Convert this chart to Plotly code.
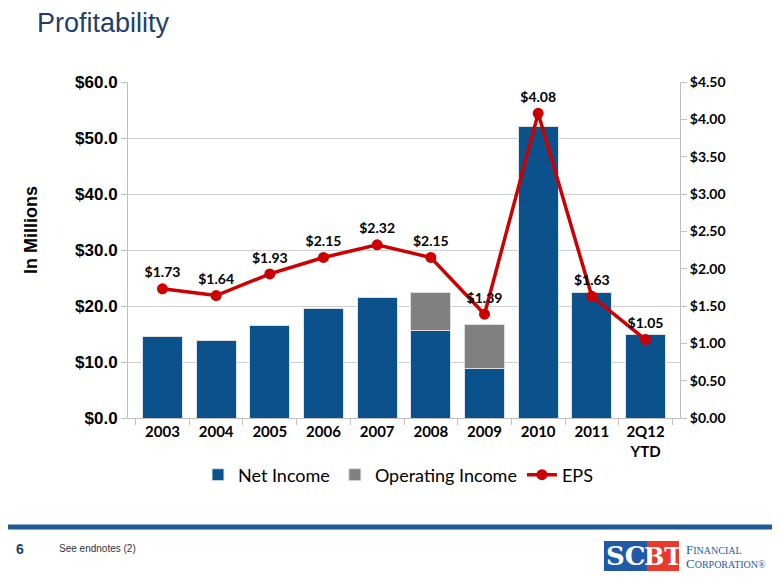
import plotly.graph_objects as go

years = ["2003", "2004", "2005", "2006", "2007", "2008", "2009", "2010", "2011", "2Q12<br>YTD"]
net_income = [14.6, 13.9, 16.6, 19.6, 21.5, 15.7, 8.8, 52.0, 22.5, 15.0]
operating_extra = [0, 0, 0, 0, 0, 6.7, 7.9, 0, 0, 0]
eps = [1.73, 1.64, 1.93, 2.15, 2.32, 2.15, 1.39, 4.08, 1.63, 1.05]
eps_labels = ["$1.73", "$1.64", "$1.93", "$2.15", "$2.32", "$2.15", "$1.39", "$4.08", "$1.63", "$1.05"]
left_ticks = [0, 10, 20, 30, 40, 50, 60]
left_tick_text = ["$0.0", "$10.0", "$20.0", "$30.0", "$40.0", "$50.0", "$60.0"]
right_ticks = [0, 0.5, 1.0, 1.5, 2.0, 2.5, 3.0, 3.5, 4.0, 4.5]
right_tick_text = ["$0.00", "$0.50", "$1.00", "$1.50", "$2.00", "$2.50", "$3.00", "$3.50", "$4.00", "$4.50"]

BLUE = "#0B528C"
GREY = "#808080"
RED = "#CC0000"
CAL = "Lato, Carlito, Calibri, sans-serif"

# page offset (browser body margin) is 8px; plot area in reference pixels: x 128..680, y 82..418
def px_x(px):
    return (px - 128) / (680 - 128)
def px_y(py):
    return (418 - py) / (418 - 82)

fig = go.Figure()
fig.add_trace(go.Bar(x=years, y=net_income, name="Net Income",
                     marker=dict(color=BLUE, line=dict(color="#DDE6F0", width=1))))
fig.add_trace(go.Bar(x=years, y=operating_extra, name="Operating Income",
                     marker=dict(color=GREY, line=dict(color="#DDDDDD", width=1))))
fig.add_trace(go.Scatter(x=years, y=eps, name="EPS", yaxis="y2", mode="lines+markers+text",
                         line=dict(color=RED, width=3.5),
                         marker=dict(color=RED, size=11),
                         text=eps_labels, textposition="top center",
                         textfont=dict(family=CAL, size=14, color="black", weight="bold"),
                         cliponaxis=False))

fig.update_layout(
    width=772, height=569,
    margin=dict(l=120, r=100, t=74, b=159),
    paper_bgcolor="white", plot_bgcolor="white",
    barmode="stack", bargap=0.25,
    showlegend=True,
    legend=dict(orientation="h", x=px_x(198), xanchor="left", y=px_y(475), yanchor="middle",
                font=dict(family=CAL, size=18, color="black"), traceorder="normal",
                itemwidth=30, tracegroupgap=0),
    xaxis=dict(showline=True, linecolor="#BFBFBF", ticks="outside", tickcolor="#BFBFBF",
               ticklen=6, tickson="boundaries",
               tickfont=dict(family=CAL, size=15, color="black", weight="bold")),
    yaxis=dict(range=[0, 60], tickvals=left_ticks, ticktext=left_tick_text,
               showline=True, linecolor="#BFBFBF", ticks="outside", tickcolor="#BFBFBF",
               ticklen=6, gridcolor="#D0D0D0", gridwidth=1, zeroline=False,
               tickfont=dict(family="Arial, Liberation Sans", size=17, color="black", weight="bold")),
    yaxis2=dict(range=[0, 4.5], tickvals=right_ticks, ticktext=right_tick_text,
                overlaying="y", side="right", showline=True, linecolor="#BFBFBF",
                ticks="outside", tickcolor="#BFBFBF", ticklen=6, showgrid=False, zeroline=False,
                tickfont=dict(family=CAL, size=14, color="black", weight="bold")),
)

fig.add_annotation(text="Profitability", xref="paper", yref="paper", x=px_x(35), y=px_y(23),
                   showarrow=False, xanchor="left", yanchor="middle",
                   font=dict(family="Arial, Liberation Sans", size=27, color="#1F3F6A"))
fig.add_annotation(text="In Millions", xref="paper", yref="paper", x=px_x(31), y=px_y(230),
                   textangle=-90, showarrow=False, xanchor="center", yanchor="middle",
                   font=dict(family="Arial, Liberation Sans", size=18, color="black", weight="bold"))

# footer
fig.add_shape(type="line", xref="paper", yref="paper", x0=px_x(-10), x1=px_x(800),
              y0=px_y(527), y1=px_y(527), line=dict(color="#1D5A96", width=5))
fig.add_annotation(text="6", xref="paper", yref="paper", x=px_x(20), y=px_y(549), showarrow=False,
                   xanchor="center", yanchor="middle",
                   font=dict(family="Arial, Liberation Sans", size=14, color="#1F3F6A", weight="bold"))
fig.add_annotation(text="See endnotes (2)", xref="paper", yref="paper", x=px_x(57), y=px_y(548),
                   showarrow=False, xanchor="left", yanchor="middle",
                   font=dict(family="Arial, Liberation Sans", size=10, color="#333333"))

# logo
fig.add_shape(type="rect", xref="paper", yref="paper", x0=px_x(604), x1=px_x(647),
              y0=px_y(571), y1=px_y(541), fillcolor="#1F5AA6", line=dict(width=0))
fig.add_shape(type="rect", xref="paper", yref="paper", x0=px_x(647), x1=px_x(679),
              y0=px_y(571), y1=px_y(541), fillcolor="#E8392B", line=dict(width=0))
fig.add_annotation(text="SC", xref="paper", yref="paper", x=px_x(625.5), y=px_y(556),
                   showarrow=False, xanchor="center", yanchor="middle",
                   font=dict(family="DejaVu Serif", size=26, color="white", weight="bold"))
fig.add_annotation(text="BT", xref="paper", yref="paper", x=px_x(663), y=px_y(556),
                   showarrow=False, xanchor="center", yanchor="middle",
                   font=dict(family="DejaVu Serif", size=24, color="white", weight="bold"))
fig.add_annotation(text="F<span style='font-size:10px'>INANCIAL</span>", xref="paper", yref="paper",
                   x=px_x(684), y=px_y(549),
                   showarrow=False, xanchor="left", yanchor="middle",
                   font=dict(family="Liberation Serif", size=13, color="#1F5AA6"))
fig.add_annotation(text="C<span style='font-size:10px'>ORPORATION®</span>", xref="paper", yref="paper",
                   x=px_x(684), y=px_y(563),
                   showarrow=False, xanchor="left", yanchor="middle",
                   font=dict(family="Liberation Serif", size=13, color="#1F5AA6"))

fig.write_html("out.html")
